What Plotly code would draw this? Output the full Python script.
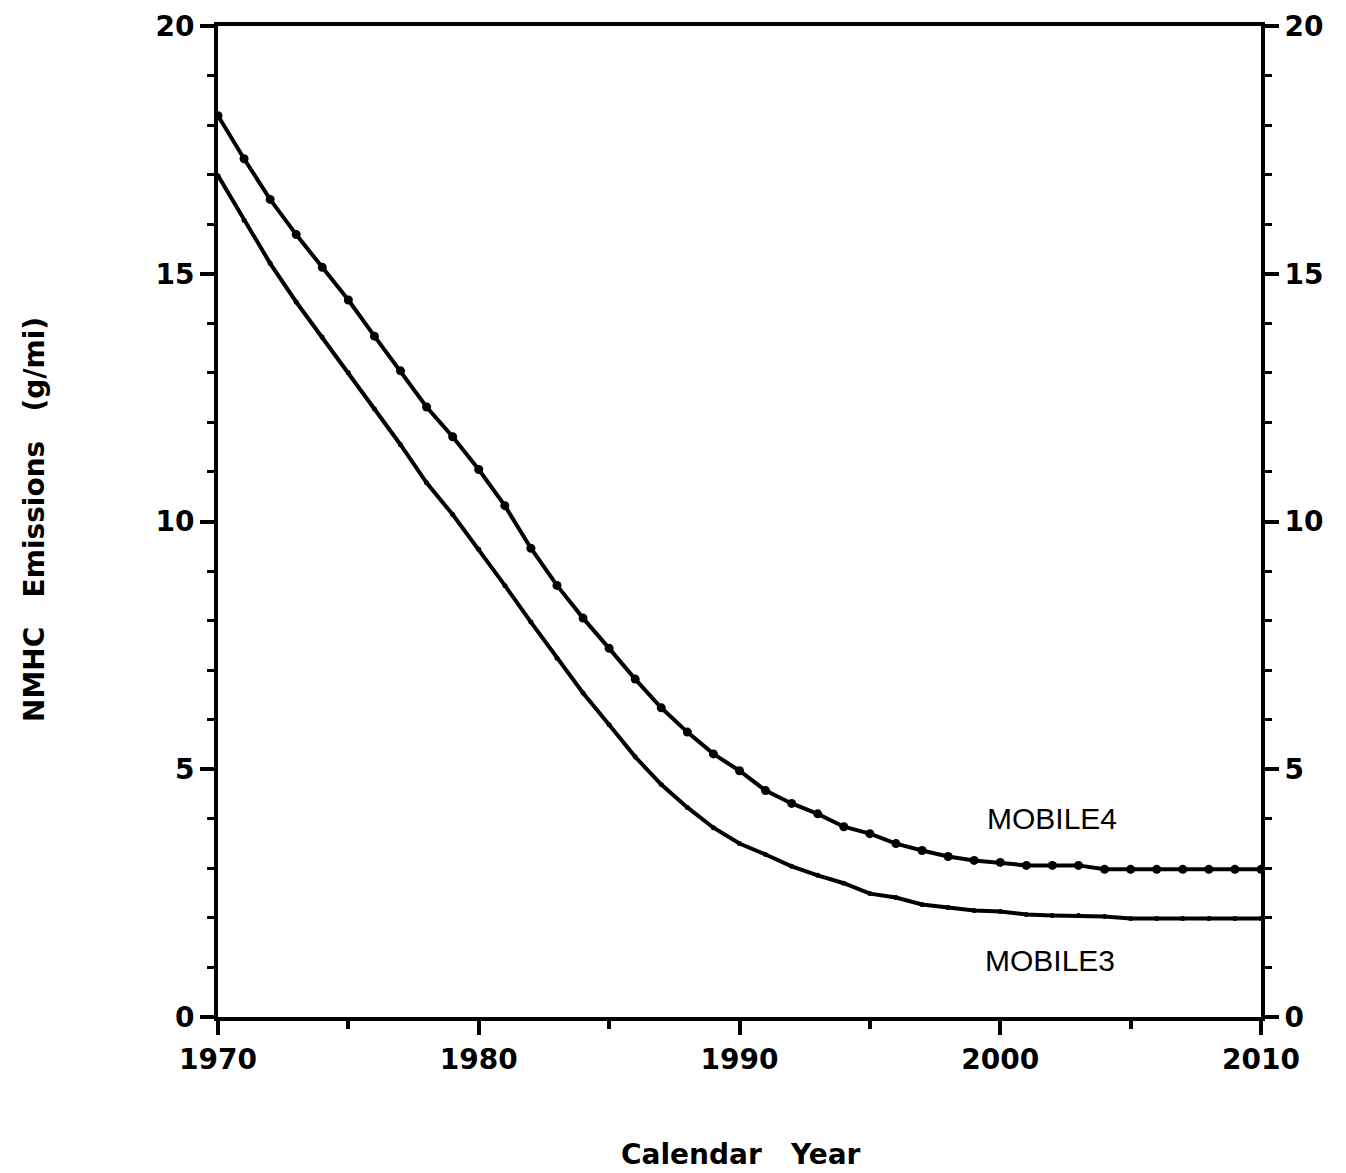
import plotly.graph_objects as go

years = list(range(1970, 2011))
mobile4 = [18.19, 17.32, 16.50, 15.79, 15.13, 14.47, 13.74, 13.04, 12.31, 11.71,
           11.05, 10.32, 9.46, 8.71, 8.05, 7.44, 6.82, 6.24, 5.75, 5.31,
           4.97, 4.57, 4.31, 4.10, 3.84, 3.70, 3.50, 3.36, 3.24, 3.16,
           3.12, 3.06, 3.06, 3.06, 2.98, 2.98, 2.98, 2.98, 2.98, 2.98, 2.98]
mobile3 = [16.98, 16.08, 15.21, 14.43, 13.72, 13.00, 12.27, 11.55, 10.78, 10.14,
           9.44, 8.71, 7.97, 7.24, 6.54, 5.90, 5.25, 4.69, 4.23, 3.82,
           3.50, 3.28, 3.04, 2.86, 2.70, 2.49, 2.41, 2.27, 2.21, 2.15,
           2.13, 2.07, 2.05, 2.05, 2.03, 1.99, 1.99, 1.99, 1.99, 1.99, 1.99]
x_ticks = [1970, 1980, 1990, 2000, 2010]
y_ticks = [0, 5, 10, 15, 20]
labels = [("MOBILE4", 2002.0, 4.0), ("MOBILE3", 2001.9, 1.15)]

bold_family = "DejaVu Sans, Liberation Sans, Arial, sans-serif"
label_family = "Liberation Sans, Arial, sans-serif"

fig = go.Figure()
fig.add_trace(go.Scatter(x=years, y=mobile3, mode="lines+markers",
                         line=dict(color="black", width=4),
                         marker=dict(color="black", size=5), name="MOBILE3",
                         showlegend=False))
fig.add_trace(go.Scatter(x=years, y=mobile4, mode="lines+markers",
                         line=dict(color="black", width=4),
                         marker=dict(color="black", size=9), name="MOBILE4",
                         showlegend=False))
# invisible trace for the right axis
fig.add_trace(go.Scatter(x=[years[0]], y=[mobile4[0]], yaxis="y2", mode="markers",
                         marker=dict(opacity=0), showlegend=False, hoverinfo="skip"))

tickfont = dict(family=bold_family, size=28, color="black", weight="bold")

fig.update_layout(
    width=1346, height=1173,
    paper_bgcolor="white", plot_bgcolor="white",
    margin=dict(l=210, r=93, t=18, b=164),
    xaxis=dict(range=[1970, 2010], tickmode="array", tickvals=x_ticks,
               ticktext=[str(v) for v in x_ticks], automargin=False,
               ticklabeloverflow="allow",
               showgrid=False, zeroline=False,
               showline=True, linecolor="black", linewidth=4, mirror=True,
               ticks="outside", ticklen=14, tickwidth=4, tickcolor="black",
               minor=dict(tickmode="array", tickvals=[1975, 1985, 1995, 2005],
                          ticks="outside", ticklen=8, tickwidth=4, tickcolor="black"),
               tickfont=tickfont),
    yaxis=dict(range=[0, 20], tickmode="array", tickvals=y_ticks, automargin=False,
               ticklabeloverflow="allow",
               showgrid=False, zeroline=False,
               showline=True, linecolor="black", linewidth=4,
               ticks="outside", ticklen=14, tickwidth=4, tickcolor="black",
               minor=dict(dtick=1, ticks="outside", ticklen=7, tickwidth=3, tickcolor="black"),
               tickfont=tickfont),
    yaxis2=dict(range=[0, 20], tickmode="array", tickvals=y_ticks, overlaying="y",
                side="right", showgrid=False, zeroline=False, automargin=False,
                ticklabeloverflow="allow",
                showline=True, linecolor="black", linewidth=4,
                ticks="outside", ticklen=14, tickwidth=4, tickcolor="black",
                minor=dict(dtick=1, ticks="outside", ticklen=7, tickwidth=3, tickcolor="black"),
                tickfont=tickfont),
)

for text, xv, yv in labels:
    fig.add_annotation(x=xv, y=yv, xref="x", yref="y", text=text, showarrow=False,
                       xanchor="center", yanchor="middle",
                       font=dict(family=label_family, size=30, color="black"))

fig.add_annotation(x=0.501, y=-0.139, xref="paper", yref="paper",
                   text="Calendar\u00a0\u00a0\u00a0Year", showarrow=False,
                   xanchor="center", yanchor="middle",
                   font=dict(family=bold_family, size=28, color="black", weight="bold"))
fig.add_annotation(x=-0.176, y=0.502, xref="paper", yref="paper",
                   text="NMHC\u00a0\u00a0\u00a0Emissions\u00a0\u00a0\u00a0(g/mi)", showarrow=False,
                   textangle=-90, xanchor="center", yanchor="middle",
                   font=dict(family=bold_family, size=28, color="black", weight="bold"))

fig.write_html("out.html")
